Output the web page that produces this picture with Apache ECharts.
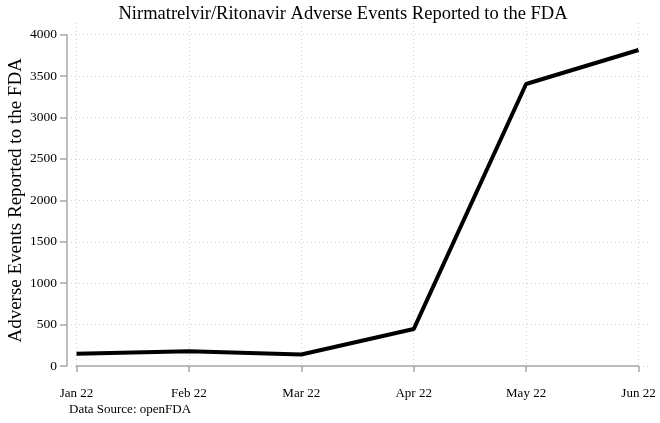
<!DOCTYPE html>
<html>
<head>
<meta charset="utf-8">
<script src="https://cdn.jsdelivr.net/npm/echarts@6/dist/echarts.min.js"></script>
<style>
  html, body { margin: 0; padding: 0; background: #fff; }
  #chart { width: 660px; height: 423px; }
</style>
</head>
<body>
<div id="chart"></div>
<script>
  // 数据
  var months = ['Jan 22', 'Feb 22', 'Mar 22', 'Apr 22', 'May 22', 'Jun 22'];
  var reports = [148, 178, 138, 446, 3405, 3815];
  var yMin = 0, yMax = 4000, yStep = 500;

  var serif = '"Liberation Serif", "DejaVu Serif", serif';
  var axisGray = '#a8a8a8';
  var gridLine = { show: true, lineStyle: { color: '#d0d0d0', type: [1, 3], width: 1 } };
  var hidden = { show: false };

  var chart = echarts.init(document.getElementById('chart'));
  var option = {
    animation: false,
    title: {
      text: 'Nirmatrelvir/Ritonavir Adverse Events Reported to the FDA',
      left: 338,
      textAlign: 'center',
      top: 0,
      textStyle: { fontFamily: serif, fontSize: 18.5, fontWeight: 'normal', color: '#000' }
    },
    grid: [
      { left: 76.5, right: 21.5, top: 34.7, bottom: 57, outerBoundsMode: 'none' },
      // 虚线网格稍微超出绘图区
      { left: 76.5, right: 21.5, top: 23, bottom: 52, outerBoundsMode: 'none' },
      { left: 71, right: 10, top: 34.7, bottom: 57, outerBoundsMode: 'none' }
    ],
    xAxis: [{
      type: 'category',
      data: months,
      boundaryGap: false,
      offset: 11,
      axisLine: { lineStyle: { color: axisGray, width: 1.5 } },
      axisTick: { alignWithLabel: true, length: 6, lineStyle: { color: axisGray, width: 1.5 } },
      axisLabel: { fontFamily: serif, fontSize: 13, color: '#000', margin: 10 },
      splitLine: hidden
    }, {
      gridIndex: 1,
      type: 'category',
      data: months,
      boundaryGap: false,
      axisLine: hidden, axisTick: hidden, axisLabel: hidden,
      splitLine: gridLine
    }, {
      gridIndex: 2,
      type: 'value',
      axisLine: hidden, axisTick: hidden, axisLabel: hidden, splitLine: hidden
    }],
    yAxis: [{
      type: 'value',
      min: yMin,
      max: yMax,
      interval: yStep,
      offset: 9.5,
      name: 'Adverse Events Reported to the FDA',
      nameLocation: 'middle',
      nameGap: 41,
      nameMoveOverlap: false,
      nameTextStyle: { fontFamily: serif, fontSize: 19, color: '#000' },
      axisLine: { show: true, lineStyle: { color: axisGray, width: 1.5 } },
      axisTick: { show: true, length: 7, lineStyle: { color: axisGray, width: 1.5 } },
      axisLabel: { fontFamily: serif, fontSize: 13.5, color: '#000', margin: 10,
        formatter: function (v) { return String(v); } },
      splitLine: hidden
    }, {
      gridIndex: 1,
      type: 'value',
      axisLine: hidden, axisTick: hidden, axisLabel: hidden, splitLine: hidden
    }, {
      gridIndex: 2,
      type: 'value',
      min: yMin,
      max: yMax,
      interval: yStep,
      axisLine: hidden, axisTick: hidden, axisLabel: hidden,
      splitLine: gridLine
    }],
    series: [{
      type: 'line',
      data: reports,
      symbol: 'none',
      z: 5,
      lineStyle: { color: '#000', width: 4 }
    }],
    graphic: [{
      type: 'text',
      left: 69,
      top: 403,
      style: { text: 'Data Source: openFDA', fontFamily: serif, fontSize: 13, fill: '#000' }
    }]
  };
  chart.setOption(option);
</script>
</body>
</html>
